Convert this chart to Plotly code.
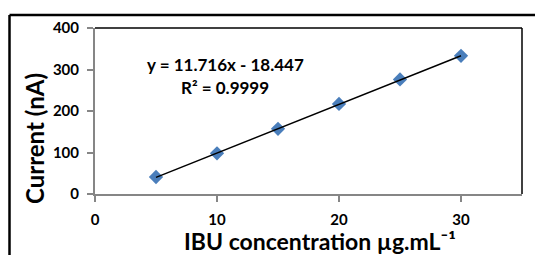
import plotly.graph_objects as go

# Data
conc = [5, 10, 15, 20, 25, 30]
current = [41, 98, 157, 217, 276, 333]
slope = 11.716
intercept = -18.447
fit_x = [5, 30]
fit_y = [slope * x + intercept for x in fit_x]

x_ticks = [0, 10, 20, 30]
y_ticks = [0, 100, 200, 300, 400]

FONT = "Lato"

fig = go.Figure()
fig.add_trace(go.Scatter(
    x=conc, y=current, mode="markers",
    marker=dict(symbol="diamond", size=11, color="#4A7EBB"),
    showlegend=False, cliponaxis=False,
))
fig.add_trace(go.Scatter(
    x=fit_x, y=fit_y, mode="lines",
    line=dict(color="black", width=1.5),
    showlegend=False,
))

axis_common = dict(
    showgrid=False, zeroline=False, showline=True,
    linecolor="#868686", linewidth=2,
    ticks="outside", ticklen=6, tickcolor="#868686", tickwidth=1.5,
    tickfont=dict(family=FONT, size=15, color="black", weight="bold"),
    automargin=False,
)
fig.update_xaxes(range=[0, 35], tickvals=x_ticks, ticklabelstandoff=5, **axis_common)
fig.update_yaxes(range=[0, 400], tickvals=y_ticks, ticklabelstandoff=5, **axis_common)

PW, PH, L, B = 427, 166, 95, 194


def px(x):
    return (x - L) / PW


def py(y):
    return (B - y) / PH


shapes = [
    # plot area top/right border
    dict(type="line", xref="paper", yref="paper", x0=0, x1=1, y0=1, y1=1,
         line=dict(color="black", width=1.5)),
    dict(type="line", xref="paper", yref="paper", x0=1, x1=1, y0=0, y1=1,
         line=dict(color="black", width=1.5)),
    # outer frame (cropped)
    dict(type="line", xref="paper", yref="paper", x0=px(9.5), x1=1.2,
         y0=py(15), y1=py(15), line=dict(color="black", width=2.5)),
    dict(type="line", xref="paper", yref="paper", x0=px(9.5), x1=px(9.5),
         y0=py(15), y1=-0.5, line=dict(color="black", width=2.5)),
]

common_ann = dict(xref="paper", yref="paper", showarrow=False,
                  xanchor="center", yanchor="middle")
annotations = [
    dict(text="y = 11.716x - 18.447", x=px(225), y=py(64),
         font=dict(family=FONT, size=17, color="black", weight="bold"), **common_ann),
    dict(text="R² = 0.9999", x=px(225), y=py(87),
         font=dict(family=FONT, size=17, color="black", weight="bold"), **common_ann),
    dict(text="IBU concentration µg.mL⁻¹", x=px(320), y=py(241),
         font=dict(family=FONT, size=23, color="black", weight="bold"), **common_ann),
    dict(text="Current (nA)", textangle=-90, x=px(34), y=py(139),
         font=dict(family=FONT, size=24, color="black", weight="bold"), **common_ann),
]

fig.update_layout(
    width=535, height=255,
    margin=dict(l=95, r=13, t=28, b=61, autoexpand=False),
    paper_bgcolor="white", plot_bgcolor="white",
    shapes=shapes, annotations=annotations,
)

fig.write_html(
    "out.html",
    config={"displayModeBar": False},
    post_script="document.body.style.margin='0';document.body.style.overflow='hidden';",
)
